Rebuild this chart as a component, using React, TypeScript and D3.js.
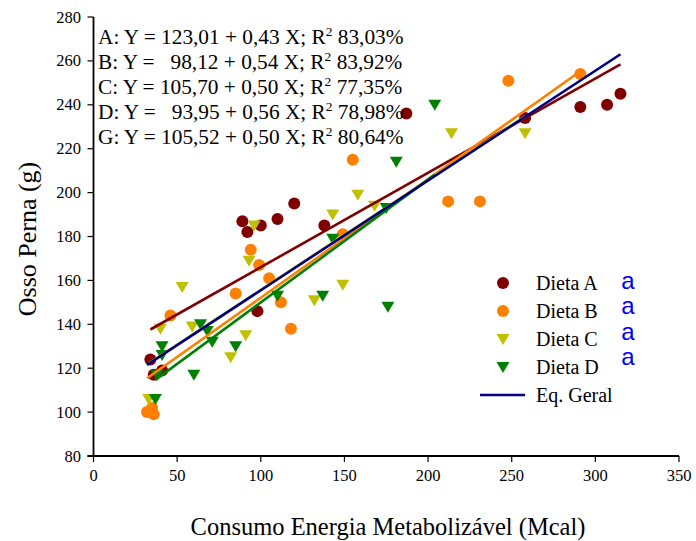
import React from "react";
import * as d3 from "d3";

const xTicks = [0, 50, 100, 150, 200, 250, 300, 350];
const yTicks = [80, 100, 120, 140, 160, 180, 200, 220, 240, 260, 280];

const aX = [34, 36, 41, 89, 92, 98, 100, 110, 120, 138, 187, 258, 291, 307, 315];
const aY = [124, 117, 119, 187, 182, 146, 185, 188, 195, 185, 236, 234, 239, 240, 245];

const bX = [32, 35, 36, 46, 85, 94, 99, 105, 112, 118, 149, 155, 212, 231, 248, 291];
const bY = [100, 102, 99, 144, 154, 174, 167, 161, 150, 138, 181, 215, 196, 196, 251, 254];

const cX = [33, 40, 53, 59, 82, 91, 93, 96, 132, 143, 149, 158, 168, 214, 258];
const cY = [106, 138, 157, 139, 125, 135, 169, 185, 151, 190, 158, 199, 194, 227, 227];

const dX = [37, 38, 41, 41, 60, 64, 68, 71, 85, 110, 137, 143, 175, 176, 181, 204];
const dY = [106, 117, 130, 126, 117, 140, 137, 132, 130, 153, 153, 179, 193, 148, 214, 240];

const lineNames = ["A", "B", "C", "D", "G"];
const intercepts = [123.01, 98.12, 105.7, 93.95, 105.52];
const slopes = [0.43, 0.54, 0.5, 0.56, 0.5];
const lineStarts = [34, 32, 33, 37, 32];
const lineEnds = [315, 291, 258, 204, 315];
const lineColors = ["#800000", "#ff8000", "#c0c000", "#008000", "#000080"];

const eqPrefix = [
  "A: Y = 123,01 + 0,43 X; R",
  "B: Y =   98,12 + 0,54 X; R",
  "C: Y = 105,70 + 0,50 X; R",
  "D: Y =   93,95 + 0,56 X; R",
  "G: Y = 105,52 + 0,50 X; R",
];
const eqR2 = ["83,03%", "83,92%", "77,35%", "78,98%", "80,64%"];

const legendLabels = ["Dieta A", "Dieta B", "Dieta C", "Dieta D", "Eq. Geral"];
const letters = ["a", "a", "a", "a"];

const serif = "'Liberation Serif', 'Times New Roman', serif";

export default function App() {
  const W = 696, H = 541;
  const x = d3.scaleLinear().domain([0, 350]).range([93.5, 679]);
  const y = d3.scaleLinear().domain([80, 280]).range([456, 17]);

  const series = [
    { xs: aX, ys: aY, color: lineColors[0], shape: "circle" },
    { xs: bX, ys: bY, color: lineColors[1], shape: "circle" },
    { xs: cX, ys: cY, color: lineColors[2], shape: "tri" },
    { xs: dX, ys: dY, color: lineColors[3], shape: "tri" },
  ];

  const tri = (cx: number, cy: number, s = 1) =>
    `M${cx - 6.5 * s},${cy - 5 * s} L${cx + 6.5 * s},${cy - 5 * s} L${cx},${cy + 6 * s} Z`;

  const line = d3.line<number>().x((v: any) => x(v[0])).y((v: any) => y(v[1]));

  return (
    <svg width={W} height={H} style={{ position: "absolute", left: 0, top: 0, background: "#fff" }}>
      <rect x={0} y={0} width={W} height={H} fill="#fff" />
      {series.map((s, si) =>
        s.xs.map((xv, i) =>
          s.shape === "circle" ? (
            <circle key={`${si}-${i}`} cx={x(xv)} cy={y(s.ys[i])} r={6} fill={s.color} />
          ) : (
            <path key={`${si}-${i}`} d={tri(x(xv), y(s.ys[i]))} fill={s.color} />
          )
        )
      )}
      {lineNames.map((n, i) => {
        const pts: any = [
          [lineStarts[i], intercepts[i] + slopes[i] * lineStarts[i]],
          [lineEnds[i], intercepts[i] + slopes[i] * lineEnds[i]],
        ];
        return <path key={n} d={line(pts) || ""} stroke={lineColors[i]} strokeWidth={2.6} fill="none" />;
      })}
      <line x1={x(0)} x2={x(0)} y1={y(280)} y2={y(80)} stroke="#000" strokeWidth={1.8} />
      <line x1={x(0) - 6} x2={x(350)} y1={y(80)} y2={y(80)} stroke="#000" strokeWidth={1.8} />
      {yTicks.map((t) => (
        <g key={`y${t}`}>
          <line x1={x(0) - 6} x2={x(0)} y1={y(t)} y2={y(t)} stroke="#000" strokeWidth={1.2} />
          <text x={81} y={y(t) + 5.5} textAnchor="end" fontFamily={serif} fontSize={16.5}>
            {t}
          </text>
        </g>
      ))}
      {xTicks.map((t) => (
        <g key={`x${t}`}>
          <line x1={x(t)} x2={x(t)} y1={y(80)} y2={y(80) + 6} stroke="#000" strokeWidth={1.2} />
          <text x={x(t)} y={481} textAnchor="middle" fontFamily={serif} fontSize={16.5}>
            {t}
          </text>
        </g>
      ))}
      <text
        transform={`translate(36,239) rotate(-90)`}
        textAnchor="middle"
        fontFamily={serif}
        fontSize={26}
      >
        Osso Perna (g)
      </text>
      <text x={388} y={535} textAnchor="middle" fontFamily={serif} fontSize={24.5}>
        Consumo Energia Metabolizável (Mcal)
      </text>
      {eqPrefix.map((p, i) => (
        <text key={p} x={98} y={44 + i * 25} fontFamily={serif} fontSize={21.3} style={{ whiteSpace: "pre" }}>
          {p}
          <tspan fontSize={13.5} dy={-8}>2</tspan>
          <tspan dy={8}>{" " + eqR2[i]}</tspan>
        </text>
      ))}
      {legendLabels.map((lab, i) => {
        const cy = 283 + i * 28;
        let mk;
        if (i < 2) mk = <circle cx={503} cy={cy} r={6} fill={lineColors[i]} />;
        else if (i < 4) mk = <path d={tri(503, cy)} fill={lineColors[i]} />;
        else mk = <line x1={480} x2={525} y1={cy} y2={cy} stroke={lineColors[4]} strokeWidth={2.6} />;
        return (
          <g key={lab}>
            {mk}
            <text x={536} y={cy + 7} fontFamily={serif} fontSize={20}>
              {lab}
            </text>
          </g>
        );
      })}
      {letters.map((l, i) => (
        <text key={i} x={628} y={289 + i * 25.3} textAnchor="middle" fontFamily="'Liberation Sans', Arial, sans-serif" fontSize={24} fill="#0000ff">
          {l}
        </text>
      ))}
    </svg>
  );
}
